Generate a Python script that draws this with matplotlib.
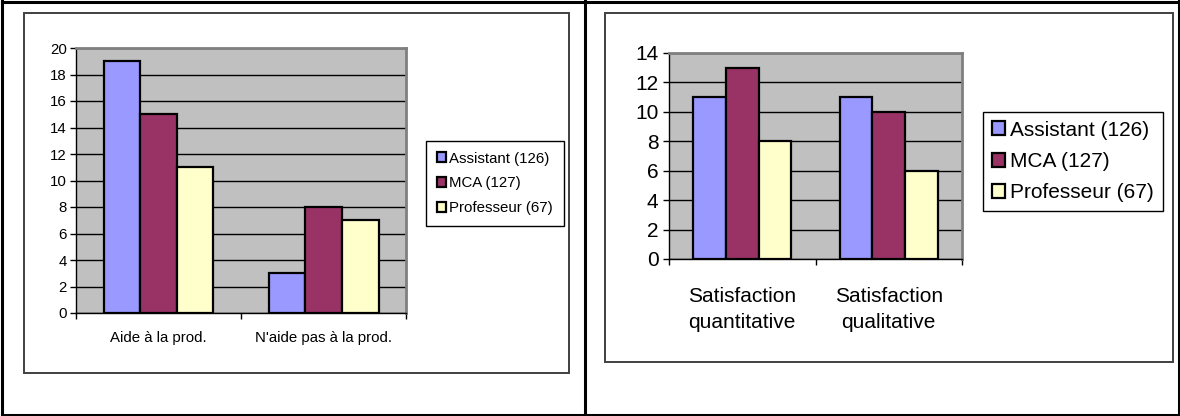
import matplotlib
matplotlib.use("Agg")
import matplotlib.pyplot as plt
from matplotlib.patches import Rectangle
from matplotlib.lines import Line2D
import numpy as np

plt.rcParams['font.family'] = ['Liberation Sans', 'DejaVu Sans']

series = ["Assistant (126)", "MCA (127)", "Professeur (67)"]
colors = ["#9999FF", "#993366", "#FFFFCC"]

prod_categories = ["Aide à la prod.", "N'aide pas à la prod."]
prod_values = {
    "Assistant (126)": [19, 3],
    "MCA (127)": [15, 8],
    "Professeur (67)": [11, 7],
}
prod_yticks = [0, 2, 4, 6, 8, 10, 12, 14, 16, 18, 20]

satis_categories = ["Satisfaction\nquantitative", "Satisfaction\nqualitative"]
satis_values = {
    "Assistant (126)": [11, 11],
    "MCA (127)": [13, 10],
    "Professeur (67)": [8, 6],
}
satis_yticks = [0, 2, 4, 6, 8, 10, 12, 14]

W, H = 1180, 416
fig = plt.figure(figsize=(W / 100, H / 100), dpi=100)
fig.patch.set_facecolor("white")


def px_rect(x0, y0, x1, y1):
    return [x0 / W, 1 - y1 / H, (x1 - x0) / W, (y1 - y0) / H]


# table frame around the two charts
for x in (2, 585, 1178.5):
    fig.add_artist(Line2D([x / W, x / W], [1 - 1 / H, 1 - 415 / H], color="black", lw=2.2))
for y in (1.5, 414.5):
    fig.add_artist(Line2D([2 / W, 1179 / W], [1 - y / H, 1 - y / H], color="black", lw=2.2))

# chart area boxes
for (x0, y0, x1, y1) in [(24, 13, 569, 373), (605, 13, 1173, 362)]:
    fig.add_artist(Rectangle((x0 / W, 1 - y1 / H), (x1 - x0) / W, (y1 - y0) / H,
                             transform=fig.transFigure, fill=False,
                             edgecolor="#404040", lw=1.4))


def bar_chart(rect, cats, values, yticks, fs, tick_len, ylab_pad, xlab_pad, linespacing=1.2):
    ax = fig.add_axes(rect)
    ax.set_facecolor("#C0C0C0")
    x = np.arange(len(cats))
    w = 2 / 9
    for i, s in enumerate(series):
        ax.bar(x + (i - 1) * w, values[s], width=w, color=colors[i],
               edgecolor="black", linewidth=1.6, zorder=3)
    ax.set_xlim(-0.5, len(cats) - 0.5)
    ax.set_ylim(yticks[0], yticks[-1])
    ax.set_yticks(yticks)
    ax.set_yticklabels([str(v) for v in yticks], fontsize=fs)
    ax.yaxis.grid(True, color="black", lw=1.0)
    ax.set_axisbelow(True)
    ax.set_xticks(x)
    ax.set_xticklabels(cats, fontsize=fs, linespacing=linespacing)
    ax.set_xticks(np.arange(len(cats) + 1) - 0.5, minor=True)
    ax.tick_params(axis="x", which="major", length=0, pad=xlab_pad)
    ax.tick_params(axis="x", which="minor", length=tick_len, width=1, color="black", direction="out")
    ax.tick_params(axis="y", length=tick_len, width=1, color="black", direction="out", pad=ylab_pad)
    for side in ("top", "right"):
        ax.spines[side].set_color("#808080")
        ax.spines[side].set_linewidth(2)
    for side in ("left", "bottom"):
        ax.spines[side].set_color("black")
        ax.spines[side].set_linewidth(1)
    return ax


bar_chart(px_rect(76, 48, 406, 313), prod_categories, prod_values, prod_yticks,
          fs=10.8, tick_len=4, ylab_pad=2.5, xlab_pad=13)
bar_chart(px_rect(669, 53, 962, 259), satis_categories, satis_values, satis_yticks,
          fs=15, tick_len=4.5, ylab_pad=3, xlab_pad=20, linespacing=1.5)


def legend_box(x, y, fs, hsize, spacing, bpad):
    handles = [Rectangle((0, 0), 1, 1, facecolor=c, edgecolor="black", lw=1.6) for c in colors]
    leg = fig.legend(handles, series, loc="upper left", bbox_to_anchor=(x / W, 1 - y / H),
                     bbox_transform=fig.transFigure, borderaxespad=0, fontsize=fs,
                     handlelength=hsize, handleheight=hsize, handletextpad=0.25,
                     labelspacing=spacing, borderpad=bpad, fancybox=False,
                     framealpha=1, edgecolor="black")
    leg.get_frame().set_linewidth(1.0)
    return leg


legend_box(426, 141, 10.8, 0.6, 0.73, 0.7)
legend_box(983, 112, 15, 0.65, 0.59, 0.42)

fig.savefig("out.png", dpi=100, facecolor="white")
